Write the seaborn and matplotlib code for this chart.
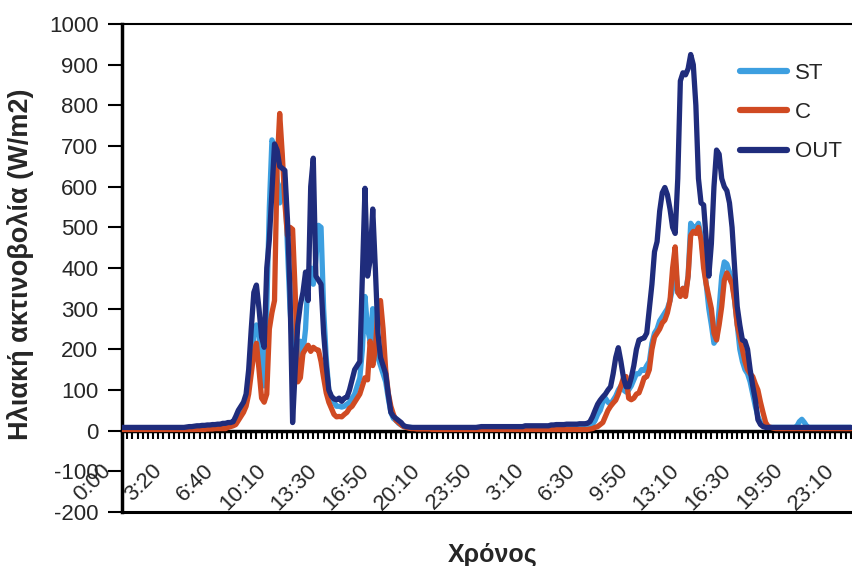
import numpy as np
import pandas as pd
import matplotlib
matplotlib.use("Agg")
import matplotlib.pyplot as plt
import matplotlib.transforms as mtransforms
from matplotlib.ticker import MultipleLocator
import seaborn as sns

# Time-axis labels, one every 20 readings
tick_labels = ["0:00", "3:20", "6:40", "10:10", "13:30", "16:50", "20:10", "23:50",
               "3:10", "6:30", "9:50", "13:10", "16:30", "19:50", "23:10"]
label_step = 20

# Solar radiation (W/m2), one reading per step
st = ([5] * 25 + [6, 6, 7, 8, 8]
      + [8, 9, 10, 10, 10, 12, 12, 14, 15, 15]
      + [15, 18, 20, 22, 30, 40, 50, 60, 80, 120]
      + [170, 230, 260, 240, 150, 110, 300, 550, 715, 700]
      + [620, 560, 600, 620, 450, 300, 200, 160, 180, 220]
      + [190, 250, 380, 400, 360, 420, 505, 500, 300, 180]
      + [100, 80, 70, 60, 60, 58, 60, 65, 70, 80]
      + [90, 110, 130, 200, 330, 250, 220, 300, 220, 180]
      + [160, 140, 120, 80, 45, 30, 25, 18, 14, 10]
      + [8, 8, 8, 6, 6, 6, 6, 6, 6, 6]
      + [5] * 60
      + [8, 10, 15, 25, 40, 50, 70, 80, 70, 65]
      + [75, 85, 100, 110, 100, 95, 100, 110, 125, 140]
      + [140, 150, 148, 160, 170, 215, 240, 250, 270, 280]
      + [290, 300, 320, 350, 420, 340, 340, 350, 340, 380]
      + [510, 500, 500, 510, 480, 420, 360, 300, 260, 215]
      + [225, 300, 380, 415, 410, 390, 370, 320, 260, 200]
      + [170, 150, 140, 120, 90, 60, 35, 20, 12, 10]
      + [8] * 10
      + [8, 10, 22, 28, 20, 10, 8, 8, 8, 8]
      + [8] * 13)

c = ([3] * 33 + [4, 4, 4, 5, 5, 5, 5]
     + [5, 8, 10, 12, 15, 25, 35, 45, 60, 90]
     + [140, 190, 215, 150, 80, 70, 90, 250, 290, 320]
     + [650, 780, 680, 560, 480, 500, 495, 340, 120, 130]
     + [190, 200, 210, 195, 205, 200, 198, 170, 130, 93]
     + [70, 55, 40, 34, 35, 34, 40, 45, 55, 60]
     + [70, 80, 90, 110, 130, 125, 220, 160, 200, 300]
     + [320, 250, 150, 93, 60, 40, 25, 20, 14, 10]
     + [8, 6, 5, 5, 4, 4, 4, 4, 4, 4]
     + [3] * 60
     + [3, 4, 5, 8, 10, 15, 20, 35, 50, 60]
     + [68, 75, 90, 110, 130, 133, 80, 76, 80, 90]
     + [93, 110, 130, 133, 150, 200, 230, 240, 250, 265]
     + [272, 290, 320, 400, 452, 340, 330, 350, 330, 380]
     + [480, 490, 485, 500, 470, 400, 360, 330, 300, 240]
     + [223, 260, 305, 370, 388, 375, 360, 320, 260, 230]
     + [200, 170, 150, 140, 133, 115, 100, 70, 44, 20]
     + [10, 8, 6, 5, 5, 5, 5, 5, 5, 5]
     + [5] * 23)

out = ([8] * 25 + [9, 10, 10, 11, 12]
       + [12, 13, 13, 14, 14, 15, 15, 16, 16, 18]
       + [18, 20, 20, 22, 35, 50, 60, 70, 90, 150]
       + [250, 340, 358, 300, 230, 205, 400, 470, 590, 705]
       + [690, 650, 645, 640, 520, 340, 20, 150, 260, 310]
       + [340, 390, 320, 600, 670, 380, 370, 360, 240, 160]
       + [100, 85, 78, 76, 80, 72, 80, 82, 100, 125]
       + [150, 160, 170, 380, 596, 380, 420, 545, 400, 240]
       + [180, 160, 140, 90, 45, 35, 30, 25, 20, 12]
       + [10, 9] + [8] * 26 + [9, 10]
       + [10] * 16 + [12] * 10
       + [14, 14, 15, 15, 15, 15, 16, 16, 16, 16, 16, 17, 17, 17]
       + [18, 22, 34, 50, 65, 75, 83, 90, 100, 108]
       + [140, 180, 204, 170, 130, 108, 108, 130, 160, 200]
       + [223, 226, 228, 240, 300, 360, 440, 465, 540, 585]
       + [598, 580, 545, 500, 485, 620, 860, 880, 875, 890]
       + [925, 900, 800, 620, 560, 555, 470, 380, 460, 600]
       + [690, 680, 620, 600, 590, 560, 500, 400, 305, 260]
       + [223, 220, 200, 150, 110, 76, 27, 15, 10, 8]
       + [8] * 33)

series_names = ["ST", "C", "OUT"]
series_colors = ["#3d9fe0", "#d04a22", "#1f2c7c"]

n = len(out)
steps = list(range(n))
df = pd.DataFrame({
    "step": steps * 3,
    "value": st + c + out,
    "series": [series_names[0]] * n + [series_names[1]] * n + [series_names[2]] * n,
})

sns.set_style("white")
plt.rcParams["font.family"] = ["Liberation Sans", "DejaVu Sans"]
plt.rcParams["axes.unicode_minus"] = False

fig = plt.figure(figsize=(8.52, 5.66), dpi=100)
ax = fig.add_axes([122 / 852, 54 / 566, 730 / 852, 488 / 566])

sns.lineplot(data=df, x="step", y="value", hue="series", hue_order=series_names,
             palette=dict(zip(series_names, series_colors)), linewidth=3.8,
             ax=ax, zorder=3)

ax.set_xlim(0, 282.4)
ax.set_ylim(-200, 1000)

# Frame: thick left axis, category axis on the zero line, borders at 1000 and -200
ax.spines["right"].set_visible(False)
ax.spines["left"].set_linewidth(2.5)
ax.spines["left"].set_color("black")
ax.spines["top"].set_linewidth(1.5)
ax.spines["top"].set_color("black")
ax.spines["bottom"].set_position(("data", 0))
ax.spines["bottom"].set_linewidth(2.5)
ax.spines["bottom"].set_color("black")
ax.axhline(-200, color="black", lw=2.2, clip_on=False, zorder=4)

ax.set_yticks(range(-200, 1001, 100))
ax.tick_params(axis="y", direction="out", length=10, width=1.5, color="black",
               labelsize=16, pad=7, left=True)

tick_pos = [i * label_step for i in range(len(tick_labels))]
ax.set_xticks(tick_pos)
ax.set_xticklabels(tick_labels)
ax.xaxis.set_minor_locator(MultipleLocator(2))
ax.tick_params(axis="x", which="both", direction="out", length=6, width=1.5,
               color="black", bottom=True)
ax.tick_params(axis="x", which="major", labelsize=16, pad=15)

shift = mtransforms.ScaledTranslation(-22 / 100, 0, fig.dpi_scale_trans)
for lbl in ax.get_xticklabels():
    lbl.set_rotation(45)
    lbl.set_ha("right")
    lbl.set_va("top")
    lbl.set_rotation_mode("anchor")
    lbl.set_transform(lbl.get_transform() + shift)

ax.set_xlabel("Χρόνος", fontsize=18, fontweight="bold", va="top")
ax.xaxis.set_label_coords(0.508, -0.063)
ax.set_ylabel("Ηλιακή ακτινοβολία (W/m2)", fontsize=19.5, fontweight="bold")
ax.yaxis.set_label_coords(-0.12, 0.508)

handles, labels = ax.get_legend_handles_labels()
for h in handles:
    h.set_linewidth(4.5)
ax.legend(handles, labels, loc="upper left", bbox_to_anchor=(0.847, 0.92),
          frameon=False, fontsize=16, handlelength=2.1, handletextpad=0.35,
          labelspacing=0.82, borderpad=0, borderaxespad=0)

fig.savefig("out.png", dpi=100)
